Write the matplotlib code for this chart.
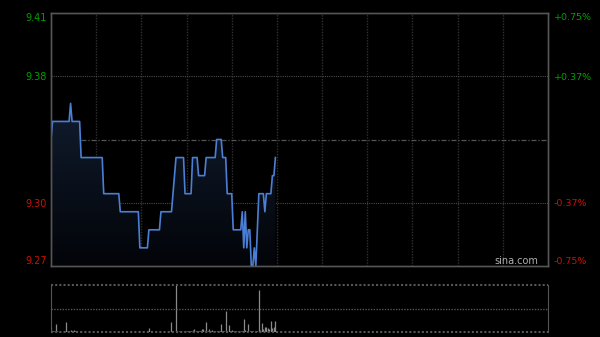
import matplotlib
matplotlib.use("Agg")
import matplotlib.pyplot as plt
import numpy as np
from matplotlib.patches import Polygon
from matplotlib.colors import LinearSegmentedColormap

# ---- data ----
prev_close = 9.34
minutes = list(range(150))
prices = [
    9.34,
    9.35, 9.35, 9.35, 9.35, 9.35, 9.35, 9.35, 9.35, 9.35, 9.35, 9.35, 9.35,
    9.36,
    9.35, 9.35, 9.35, 9.35, 9.35, 9.35,
    9.33, 9.33, 9.33, 9.33, 9.33, 9.33, 9.33, 9.33, 9.33, 9.33, 9.33, 9.33, 9.33, 9.33, 9.33,
    9.31, 9.31, 9.31, 9.31, 9.31, 9.31, 9.31, 9.31, 9.31, 9.31, 9.31,
    9.30, 9.30, 9.30, 9.30, 9.30, 9.30, 9.30, 9.30, 9.30, 9.30, 9.30, 9.30, 9.30,
    9.28, 9.28, 9.28, 9.28, 9.28, 9.28,
    9.29, 9.29, 9.29, 9.29, 9.29, 9.29, 9.29, 9.29,
    9.30, 9.30, 9.30, 9.30, 9.30, 9.30, 9.30, 9.30,
    9.31, 9.32,
    9.33, 9.33, 9.33, 9.33, 9.33, 9.33,
    9.31, 9.31, 9.31, 9.31, 9.31,
    9.33, 9.33, 9.33, 9.33,
    9.32, 9.32, 9.32, 9.32, 9.32,
    9.33, 9.33, 9.33, 9.33, 9.33, 9.33, 9.33,
    9.34, 9.34, 9.34, 9.34,
    9.33, 9.33, 9.33,
    9.31, 9.31, 9.31, 9.31,
    9.29, 9.29, 9.29, 9.29, 9.29, 9.29,
    9.30, 9.28, 9.30, 9.28, 9.29, 9.29, 9.27, 9.27, 9.28, 9.27, 9.29,
    9.31, 9.31, 9.31, 9.31,
    9.30,
    9.31, 9.31, 9.31, 9.31,
    9.32, 9.32,
    9.33,
]
volumes = [
    11, 3, 2, 18, 2, 1, 2, 1, 1, 2,
    22, 2, 3, 5, 2, 4, 2, 1, 1, 2,
    2, 1, 1, 1, 1, 1, 1, 1, 1, 1,
    1, 1, 1, 1, 1, 1, 3, 1, 1, 1,
    1, 1, 1, 1, 1, 3, 1, 1, 1, 1,
    1, 1, 1, 1, 1, 1, 1, 1, 1, 3,
    1, 1, 1, 1, 1, 8, 1, 1, 1, 1,
    1, 1, 1, 1, 1, 1, 1, 1, 1, 1,
    22, 1, 1, 100, 1, 2, 2, 1, 2, 3,
    2, 2, 3, 2, 5, 6, 3, 2, 2, 3,
    6, 7, 2, 22, 2, 6, 2, 4, 2, 2,
    3, 2, 3, 18, 2, 2, 45, 3, 15, 2,
    4, 2, 3, 2, 2, 1, 2, 2, 28, 4,
    2, 18, 2, 3, 2, 1, 2, 2, 89, 4,
    20, 6, 10, 11, 9, 6, 24, 8, 10, 24,
]

pct_ticks = [0.0075, 0.00375, -0.00375, -0.0075]
left_labels = ["9.41", "9.38", "9.30", "9.27"]
right_labels = ["+0.75%", "+0.37%", "-0.37%", "-0.75%"]

# ---- figure ----
W, H = 600, 337
fig = plt.figure(figsize=(W / 100, H / 100), dpi=100, facecolor="black")

ax = fig.add_axes([51 / W, (H - 266) / H, 497 / W, 253 / H], facecolor="black")
axv = fig.add_axes([51 / W, (H - 332) / H, 497 / W, 47 / H], facecolor="black")

ymin = prev_close * (1 - 0.0075)
ymax = prev_close * (1 + 0.0075)
ax.set_xlim(0, 330)
ax.set_ylim(ymin, ymax)

for xv in range(30, 330, 30):
    ax.axvline(xv, color="#303030", lw=1, ls=(0, (1, 1)), zorder=1)
for p in [0.00375, -0.00375]:
    ax.axhline(prev_close * (1 + p), color="#4a4a4a", lw=0.8, ls=(0, (1, 1)), zorder=1)
ax.axhline(prev_close, color="#555555", lw=0.9, ls=(0, (4, 1.5, 1, 1.5)), zorder=1)

# gradient fill under the line
xs = np.array(minutes, dtype=float)
ys = np.array(prices)
verts = [(xs[0], ymin)] + list(zip(xs, ys)) + [(xs[-1], ymin)]
poly = Polygon(verts, closed=True, facecolor="none", edgecolor="none")
ax.add_patch(poly)
grad = np.linspace(1, 0, 256).reshape(-1, 1)
cmap = LinearSegmentedColormap.from_list("g", ["#020408", "#111c2e"])
im = ax.imshow(grad, extent=[xs[0], xs[-1], ymin, ys.max()], aspect="auto",
               cmap=cmap, origin="upper", zorder=2)
im.set_clip_path(poly)

ax.plot(xs, ys, color="#4b7fd6", lw=1.2, zorder=3)

ax.set_xticks([])
ticks = [prev_close * (1 + p) for p in pct_ticks]
ax.set_yticks(ticks)
ax.set_yticklabels(left_labels)
ax.tick_params(axis="y", length=0, pad=3, labelsize=7)
colors = ["#00a000", "#00a000", "#cc1100", "#cc1100"]
for lab, c in zip(ax.get_yticklabels(), colors):
    lab.set_color(c)
labs = ax.get_yticklabels()
labs[0].set_va("top")
labs[-1].set_va("bottom")

axr = ax.twinx()
axr.set_ylim(ymin, ymax)
axr.set_yticks(ticks)
axr.set_yticklabels(right_labels)
axr.tick_params(axis="y", length=0, pad=4, labelsize=6.8)
for lab, c in zip(axr.get_yticklabels(), colors):
    lab.set_color(c)
rl = axr.get_yticklabels()
rl[0].set_va("top")
rl[-1].set_va("bottom")

for a in (ax, axr):
    for s in a.spines.values():
        s.set_color("#555555")
        s.set_linewidth(1)

ax.text(0.937, 0.0, "sina.com", transform=ax.transAxes, color="#b0b0b0",
        fontsize=7, ha="center", va="bottom", zorder=5)

# ---- volume ----
axv.set_xlim(0, 330)
axv.set_ylim(0, 100)
axv.vlines(minutes, 0, volumes, color="#8a8a8a", lw=0.9)
axv.axhline(50, color="#555555", lw=1, ls=(0, (1, 1)))
axv.axhline(100, color="#555555", lw=1.5, ls=(0, (1, 1)), clip_on=False)
axv.axhline(0, color="#555555", lw=1.5, ls=(0, (1, 1)), clip_on=False)
axv.spines["top"].set_visible(False)
axv.spines["bottom"].set_visible(False)
axv.spines["left"].set_color("#555555")
axv.spines["right"].set_color("#555555")
axv.set_xticks([])
axv.set_yticks([])

fig.savefig("out.png", dpi=100, facecolor="black")
